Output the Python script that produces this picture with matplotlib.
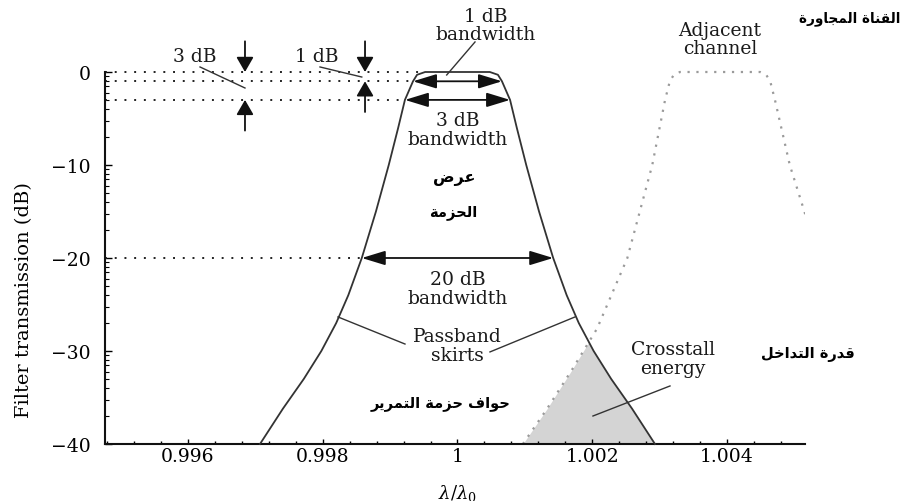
import numpy as np
import matplotlib
matplotlib.use("Agg")
import matplotlib.pyplot as plt

plt.rcParams['font.family'] = 'DejaVu Serif'
plt.rcParams['mathtext.fontset'] = 'dejavuserif'

# filter transmission (relative wavelength, dB)
filt_x = [0.99707, 0.99741, 0.99772, 0.99798, 0.99820, 0.99838, 0.99858, 0.99879, 0.99898, 0.99912,
          0.99922, 0.99934, 0.99940, 0.99952,
          1.00048, 1.00060, 1.00066, 1.00078, 1.00088, 1.00102, 1.00121, 1.00142, 1.00162, 1.00180,
          1.00202, 1.00228, 1.00259, 1.00293]
filt_db = [-40, -36.2, -33, -30, -27, -24, -20, -15, -10, -6,
           -3, -1, -0.3, 0,
           0, -0.3, -1, -3, -6, -10, -15, -20, -24, -27,
           -30, -33, -36.2, -40]

# neighbouring channel, only partly inside the window
adj_x = [1.00097, 1.00133, 1.00170, 1.00207, 1.00252, 1.00289, 1.00308, 1.00315, 1.00321, 1.00330,
         1.00449, 1.00458, 1.00464, 1.00471, 1.00493, 1.00519]
adj_db = [-40, -36.2, -32, -27.6, -20, -10, -3, -1, -0.3, 0,
          0, -0.3, -1, -3, -10, -16]

# bandwidth markers (dB level, left edge, right edge)
bw_db = [-1, -3, -20]
bw_left = [0.99934, 0.99922, 0.99858]
bw_right = [1.00066, 1.00078, 1.00142]

xticks = [0.996, 0.998, 1.0, 1.002, 1.004]
xticklabels = ['0.996', '0.998', '1', '1.002', '1.004']
yticks = [0, -10, -20, -30, -40]

# Arabic presentation forms: isolated, final, initial, medial
AR_FORMS = {
    'ا': (0xFE8D, 0xFE8E, None, None),
    'ة': (0xFE93, 0xFE94, None, None),
    'و': (0xFEED, 0xFEEE, None, None),
    'ر': (0xFEAD, 0xFEAE, None, None),
    'ز': (0xFEAF, 0xFEB0, None, None),
    'د': (0xFEA9, 0xFEAA, None, None),
    'ل': (0xFEDD, 0xFEDE, 0xFEDF, 0xFEE0),
    'ق': (0xFED5, 0xFED6, 0xFED7, 0xFED8),
    'ن': (0xFEE5, 0xFEE6, 0xFEE7, 0xFEE8),
    'م': (0xFEE1, 0xFEE2, 0xFEE3, 0xFEE4),
    'ج': (0xFE9D, 0xFE9E, 0xFE9F, 0xFEA0),
    'ع': (0xFEC9, 0xFECA, 0xFECB, 0xFECC),
    'ض': (0xFEBD, 0xFEBE, 0xFEBF, 0xFEC0),
    'ح': (0xFEA1, 0xFEA2, 0xFEA3, 0xFEA4),
    'ت': (0xFE95, 0xFE96, 0xFE97, 0xFE98),
    'خ': (0xFEA5, 0xFEA6, 0xFEA7, 0xFEA8),
    'ف': (0xFED1, 0xFED2, 0xFED3, 0xFED4),
    'ي': (0xFEF1, 0xFEF2, 0xFEF3, 0xFEF4),
}


def shape_ar(text):
    # join letters and flip to visual order, since matplotlib does no shaping
    words = []
    for word in text.split(' '):
        out = []
        for i, ch in enumerate(word):
            iso, fin, ini, med = AR_FORMS[ch]
            prev_joins = i > 0 and AR_FORMS[word[i - 1]][2] is not None
            next_joins = ini is not None and i < len(word) - 1
            if prev_joins and next_joins:
                cp = med
            elif prev_joins:
                cp = fin
            elif next_joins:
                cp = ini
            else:
                cp = iso
            out.append(chr(cp))
        words.append(''.join(out)[::-1])
    return ' '.join(words[::-1])


fig = plt.figure(figsize=(9.06, 5.02), dpi=100)
ax = fig.add_axes([0.11589, 0.11355, 0.77263, 0.7503])
ax.set_xlim(0.99477, 1.005156)
ax.set_ylim(-40, 0.5)

# crosstalk area under both curves
fx = np.linspace(adj_x[0], filt_x[-1], 300)
adj_left = np.interp(fx, adj_x[:10], adj_db[:10])
filt_right = np.interp(fx, filt_x[14:], filt_db[14:])
ax.fill_between(fx, -40, np.minimum(adj_left, filt_right), color='#d4d4d4', lw=0, zorder=1)

ax.plot(filt_x, filt_db, color='#333333', lw=1.3, zorder=3, clip_on=False, solid_joinstyle='round')
ax.plot(adj_x, adj_db, color='#9a9a9a', lw=1.6, ls=(0, (1, 3)), zorder=2)

# dotted reference levels
dot = dict(color='#222222', lw=1.4, ls=(0, (1, 4)), zorder=2)
ax.plot([ax.get_xlim()[0], 0.99944], [0, 0], **dot)
for lev, xl in zip(bw_db, bw_left):
    ax.plot([ax.get_xlim()[0], xl], [lev, lev], **dot)

# bandwidth double arrows
dbl = dict(arrowstyle='<|-|>,head_length=0.72,head_width=0.22', color='#111111', lw=1.3,
           shrinkA=0, shrinkB=0, mutation_scale=20)
for lev, xl, xr in zip(bw_db, bw_left, bw_right):
    ax.annotate('', xy=(xr, lev), xytext=(xl, lev), arrowprops=dbl, annotation_clip=False)

# 3 dB / 1 dB level markers
sgl = dict(arrowstyle='-|>,head_length=0.45,head_width=0.26', color='#111111', lw=1.3,
           shrinkA=0, shrinkB=0, mutation_scale=20)
for xm, low in [(0.996847, -3), (0.998628, -1)]:
    ax.annotate('', xy=(xm, 0), xytext=(xm, 3.3), arrowprops=sgl, annotation_clip=False)
    ax.annotate('', xy=(xm, low), xytext=(xm, low - 3.3), arrowprops=sgl, annotation_clip=False)

# leader lines
lead = dict(color='#333333', lw=1.0, zorder=4, clip_on=False)
ax.plot([0.99618, 0.996847], [0.54, -1.72], **lead)
ax.plot([0.99796, 0.99858], [0.54, -0.54], **lead)
ax.plot([1.00026, 0.99984], [3.23, -0.32], **lead)
ax.plot([0.998227, 0.999221], [-26.34, -29.25], **lead)
ax.plot([1.001743, 1.000482], [-26.34, -30.1], **lead)
ax.plot([1.003153, 1.00201], [-33.76, -36.99], **lead)

fs = 13.5
tk = dict(ha='center', va='center', fontsize=fs, color='#1a1a1a', linespacing=1.05)
ax.text(0.996105, 1.72, '3 dB', **tk)
ax.text(0.997915, 1.72, '1 dB', **tk)
ax.text(1.00042, 5.05, '1 dB\nbandwidth', **tk)
ax.text(1.0, -6.18, '3 dB\nbandwidth', **tk)
ax.text(1.0, -23.3, '20 dB\nbandwidth', **tk)
ax.text(1.0, -29.4, 'Passband\nskirts', **tk)
ax.text(1.0032, -30.8, 'Crosstall\nenergy', **tk)
ax.text(1.003895, 3.55, 'Adjacent\nchannel', **tk)

ar = dict(ha='center', va='center', fontsize=10.5, color='black', family='DejaVu Sans', weight='bold')
ax.text(1.005823, 5.8, shape_ar('القناة المجاورة'), **{**ar, 'fontsize': 9.8})
ax.text(0.99995, -11.3, shape_ar('عرض'), **{**ar, 'fontsize': 11.5})
ax.text(0.99993, -15.05, shape_ar('الحزمة'), **ar)
ax.text(1.0052, -30.3, shape_ar('قدرة التداخل'), **ar)
ax.text(0.999755, -35.5, shape_ar('حواف حزمة التمرير'), **ar)

# axes styling
for side in ['top', 'right']:
    ax.spines[side].set_visible(False)
ax.spines['left'].set_bounds(-40, 0)
for side in ['left', 'bottom']:
    ax.spines[side].set_linewidth(1.5)
    ax.spines[side].set_color('#111111')

ax.set_xticks(xticks)
ax.set_xticklabels(xticklabels)
ax.set_xticks(np.arange(0.9948, 1.0051, 0.0004), minor=True)
ax.set_yticks(yticks)
ax.set_yticklabels(['0', '\u221210', '\u221220', '\u221230', '\u221240'])
ymin = [m - 10 * (1 - np.log10(k)) for m in [0, -10, -20, -30] for k in range(2, 10)]
ax.set_yticks(ymin, minor=True)
ax.tick_params(axis='x', which='major', direction='in', length=3.5, width=1, pad=2, labelsize=fs)
ax.tick_params(axis='x', which='minor', direction='in', length=2.5, width=1)
ax.tick_params(axis='y', which='major', direction='in', length=5, width=1, pad=10, labelsize=fs)
ax.tick_params(axis='y', which='minor', direction='in', length=3, width=0.8)

ax.set_ylabel('Filter transmission (dB)', fontsize=14)
ax.yaxis.set_label_coords(-0.103, 0.385)
ax.set_xlabel(r'$\lambda/\lambda_0$', fontsize=13)
ax.xaxis.set_label_coords(0.503, -0.10)

fig.savefig('out.png', dpi=100)
